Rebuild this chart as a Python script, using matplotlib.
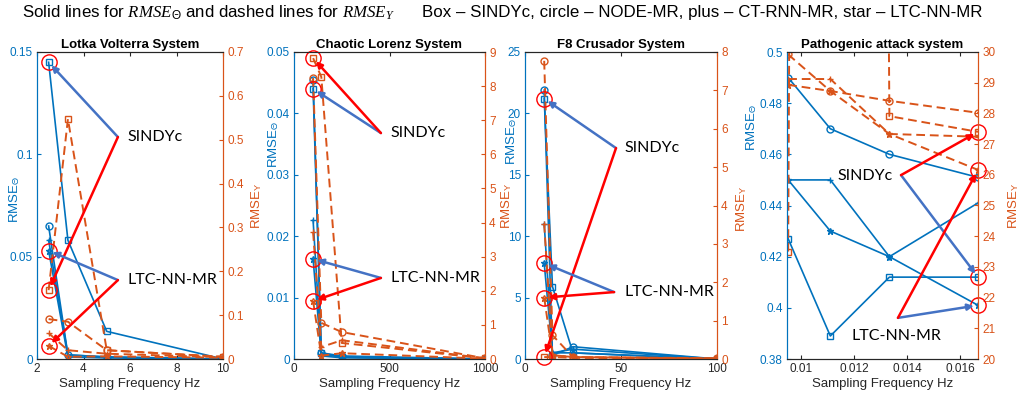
import matplotlib.pyplot as plt
import numpy as np

plt.rcParams['font.family'] = ['Liberation Sans', 'DejaVu Sans']
plt.rcParams['mathtext.fontset'] = 'custom'
plt.rcParams['mathtext.rm'] = 'Liberation Sans'
plt.rcParams['mathtext.it'] = 'Liberation Serif:italic'

BLUE = '#0072BD'
ORANGE = '#D95319'
ARROW_BLUE = '#4472C4'
RED = '#FF0000'
# series order: Box - SINDYc, circle - NODE-MR, plus - CT-RNN-MR, star - LTC-NN-MR
MARKERS = ['s', 'o', '+', '*']

titles = ['Lotka Volterra System', 'Chaotic Lorenz System',
          'F8 Crusador System', 'Pathogenic attack system']

# Lotka Volterra
lv_freq = [2.5, 3.33, 5, 10]
lv_theta = [[0.145, 0.058, 0.0135, 0.0],
            [0.065, 0.002, 0.001, 0.0],
            [0.058, 0.002, 0.001, 0.0],
            [0.053, 0.001, 0.0005, 0.0]]
lv_y = [[0.157, 0.547, 0.02, 0.005],
        [0.091, 0.085, 0.02, 0.005],
        [0.059, 0.02, 0.012, 0.004],
        [0.030, 0.005, 0.006, 0.003]]

# Chaotic Lorenz
lz_freq = [100, 143, 250, 1000]
lz_theta = [[0.044, 0.001, 0.0003, 0.0],
            [0.0455, 0.001, 0.0005, 0.0],
            [0.0226, 0.0008, 0.0003, 0.0],
            [0.0163, 0.0005, 0.0002, 0.0]]
lz_y = [[8.82, 8.27, 0.47, 0.02],
        [8.24, 1.06, 0.79, 0.02],
        [3.72, 0.35, 0.55, 0.02],
        [1.7, 0.1, 0.17, 0.01]]

# F8 Crusador
f8_freq = [10, 14.3, 25, 100]
f8_theta = [[21.2, 5.9, 0.5, 0.0],
            [21.9, 0.3, 1.0, 0.0],
            [11.0, 0.5, 0.8, 0.0],
            [7.8, 0.5, 0.5, 0.0]]
f8_y = [[0.05, 0.05, 0.03, 0.01],
        [7.77, 0.62, 0.05, 0.02],
        [3.52, 0.1, 0.05, 0.01],
        [1.6, 0.1, 0.05, 0.01]]

# Pathogenic attack
pa_freq = [0.009524, 0.011111, 0.013333, 0.016667]
pa_theta = [[0.427, 0.389, 0.412, 0.412],
            [0.490, 0.470, 0.460, 0.451],
            [0.450, 0.450, 0.420, 0.441],
            [0.450, 0.430, 0.420, 0.401]]
pa_y = [[23.5, 300, 27.91, 27.4],
        [29.92, 28.73, 28.41, 28.02],
        [29.12, 29.12, 27.33, 27.24],
        [28.93, 28.73, 27.33, 26.16]]

freqs = [lv_freq, lz_freq, f8_freq, pa_freq]
thetas = [lv_theta, lz_theta, f8_theta, pa_theta]
ys = [lv_y, lz_y, f8_y, pa_y]

xlims = [(2, 10), (0, 1000), (0, 100), (0.00948, 0.016667)]
xticks = [[2, 4, 6, 8, 10], [0, 500, 1000], [0, 50, 100], [0.01, 0.012, 0.014, 0.016]]
lylims = [(0, 0.15), (0, 0.05), (0, 25), (0.38, 0.5)]
lyticks = [[0, 0.05, 0.1, 0.15], np.arange(0, 0.051, 0.01), np.arange(0, 26, 5),
           np.arange(0.38, 0.501, 0.02)]
rylims = [(0, 0.7), (0, 9), (0, 8), (20, 30)]
ryticks = [np.arange(0, 0.71, 0.1), np.arange(0, 10), np.arange(0, 9), np.arange(20, 31)]

# axes boxes in pixels (left, width) on a 1019x399 canvas
boxes = [(37, 186), (294, 191), (525, 192), (787, 191)]
# y-label anchors in axes fraction
left_lab = [(-0.081, 0.52), (-0.068, 0.70), (-0.031, 0.71), (-0.147, 0.755)]
right_lab = [(1.14, 0.5), (1.073, 0.5), (1.089, 0.49), (1.147, 0.5)]
# annotation layout in axes fraction: (text x, text y, arrow start x, arrow start y)
sindy_pos = [(0.485, 0.723, 0.435, 0.723), (0.503, 0.736, 0.455, 0.736),
             (0.516, 0.687, 0.474, 0.687), (0.265, 0.597, 0.597, 0.599)]
ltc_pos = [(0.485, 0.257, 0.435, 0.257), (0.503, 0.264, 0.455, 0.264),
           (0.516, 0.218, 0.464, 0.218), (0.34, 0.075, 0.581, 0.134)]
target = [0, 0, 0, -1]

fig = plt.figure(figsize=(10.19, 3.99), dpi=100)

fig.text(22 / 1019, 1 - 13 / 399,
         'Solid lines for $RMSE_\\Theta$ and dashed lines for $RMSE_Y$',
         ha='left', va='center', fontsize=12.2)
fig.text(982 / 1019, 1 - 13 / 399,
         'Box \u2013 SINDYc, circle \u2013 NODE-MR, plus \u2013 CT-RNN-MR, star \u2013 LTC-NN-MR',
         ha='right', va='center', fontsize=12.2)

fmt = plt.FuncFormatter(lambda v, p: '%g' % round(v, 4))

for k in range(4):
    left, width = boxes[k]
    ax = fig.add_axes([left / 1019, 40 / 399, width / 1019, 307 / 399])
    ax2 = ax.twinx()
    f = freqs[k]
    for s in range(4):
        ax.plot(f, thetas[k][s], '-', color=BLUE, lw=1.2, marker=MARKERS[s], ms=5,
                mfc='none', mec=BLUE, mew=1.0)
        ax2.plot(f, ys[k][s], '--', color=ORANGE, lw=1.4, dashes=(4.5, 2.5),
                 marker=MARKERS[s], ms=5, mfc='none', mec=ORANGE, mew=1.0)

    ax.set_xlim(*xlims[k])
    ax.set_xticks(xticks[k])
    ax.set_ylim(*lylims[k])
    ax.set_yticks(lyticks[k])
    ax2.set_ylim(*rylims[k])
    ax2.set_yticks(ryticks[k])
    ax.set_title(titles[k], fontsize=9.5, fontweight='bold', pad=3)
    ax.set_xlabel('Sampling Frequency Hz', fontsize=9.5, color='#262626', labelpad=2)
    ax.set_ylabel('RMSE$_\\Theta$', fontsize=9.5, color=BLUE)
    ax2.set_ylabel('RMSE$_\\mathrm{Y}$', fontsize=9.5, color=ORANGE)
    ax.yaxis.set_label_coords(*left_lab[k])
    ax2.yaxis.set_label_coords(*right_lab[k])

    ax.tick_params(axis='x', direction='in', top=True, length=3, labelsize=8.5,
                   colors='#262626', pad=3)
    ax.tick_params(axis='y', direction='in', length=3, labelsize=8.5, colors=BLUE, pad=3)
    ax2.tick_params(axis='y', direction='in', length=3, labelsize=8.5, colors=ORANGE, pad=3)
    ax.yaxis.set_major_formatter(fmt)
    ax2.yaxis.set_major_formatter(fmt)
    ax.xaxis.set_major_formatter(fmt)
    for a in (ax, ax2):
        a.spines['left'].set_color(BLUE)
        a.spines['right'].set_color(ORANGE)
        a.spines['top'].set_color('#262626')
        a.spines['bottom'].set_color('#262626')

    i = target[k]
    # highlighted points
    for val in (thetas[k][0][i], thetas[k][3][i]):
        ax2.plot(f[i], val, 'o', ms=11, mfc='none', mec=RED, mew=1.0,
                 transform=ax.transData, clip_on=False)
    for val in (ys[k][0][i], ys[k][3][i]):
        ax2.plot(f[i], val, 'o', ms=11, mfc='none', mec=RED, mew=1.0, clip_on=False)

    for label, pos, s in (('SINDYc', sindy_pos[k], 0), ('LTC-NN-MR', ltc_pos[k], 3)):
        tx, ty, sx, sy = pos
        ax2.text(tx, ty, label, transform=ax2.transAxes, fontsize=11.5,
                 family=['Lato', 'DejaVu Sans'], va='center', ha='left')
        ax2.annotate('', xy=(f[i], thetas[k][s][i]), xycoords=ax.transData,
                     xytext=(sx, sy), textcoords='axes fraction',
                     arrowprops=dict(arrowstyle='-|>', color=ARROW_BLUE, lw=1.8,
                                     mutation_scale=9, shrinkA=0, shrinkB=3))
        ax2.annotate('', xy=(f[i], ys[k][s][i]), xycoords='data',
                     xytext=(sx, sy), textcoords='axes fraction',
                     arrowprops=dict(arrowstyle='-|>', color=RED, lw=1.8,
                                     mutation_scale=9, shrinkA=0, shrinkB=3))

fig.savefig('out.png', dpi=100)
